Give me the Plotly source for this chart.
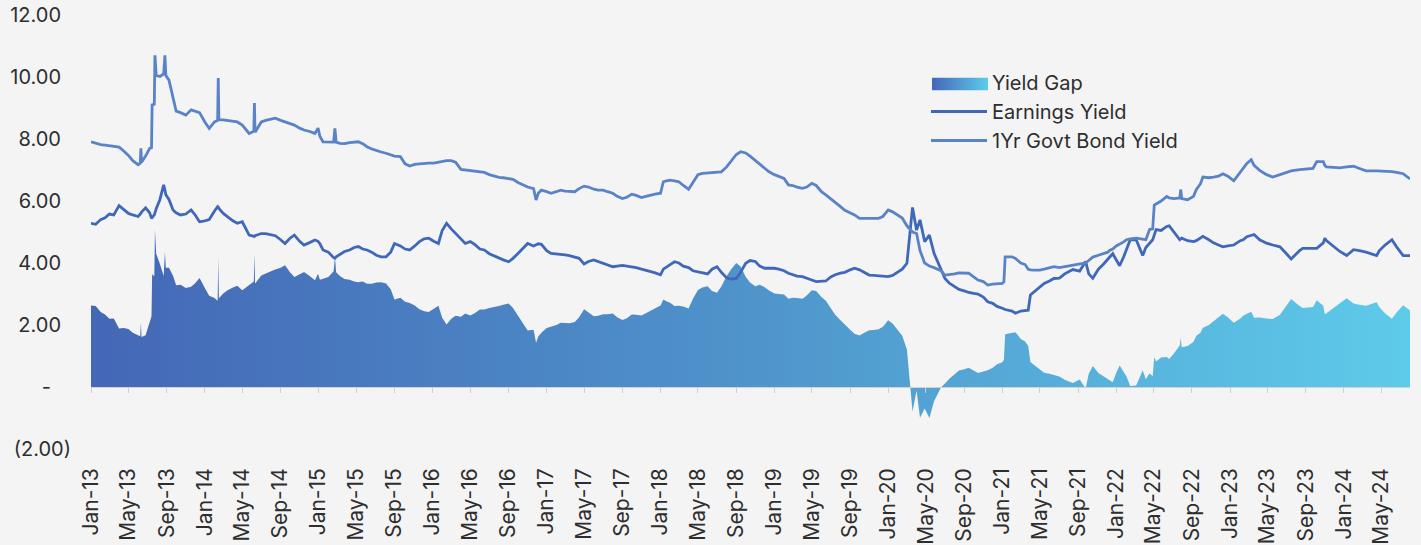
import base64
import plotly.graph_objects as go
import pandas as pd

# ---------------- data ----------------
dates = [
    "2013-01-01", "2013-01-16", "2013-02-01", "2013-02-15", "2013-03-01", "2013-03-15",
    "2013-04-01", "2013-04-15", "2013-05-01", "2013-05-15", "2013-06-01", "2013-06-08",
    "2013-06-10", "2013-06-12", "2013-06-25", "2013-07-08", "2013-07-14", "2013-07-16",
    "2013-07-23", "2013-07-25", "2013-07-29", "2013-08-10", "2013-08-22", "2013-08-26",
    "2013-08-29", "2013-09-08", "2013-09-21", "2013-10-01", "2013-10-15", "2013-11-01",
    "2013-11-18", "2013-12-01", "2013-12-15",
    "2014-01-01", "2014-01-15", "2014-02-01", "2014-02-11", "2014-02-13", "2014-02-15",
    "2014-03-01", "2014-03-15", "2014-04-01", "2014-04-15", "2014-05-01", "2014-05-23",
    "2014-06-07", "2014-06-09", "2014-06-11", "2014-07-01", "2014-07-15", "2014-08-01",
    "2014-08-15", "2014-09-01", "2014-09-15", "2014-10-01", "2014-10-15", "2014-11-01",
    "2014-11-15", "2014-12-01", "2014-12-20", "2014-12-30",
    "2015-01-05", "2015-01-15", "2015-02-01", "2015-02-18", "2015-02-22", "2015-02-26",
    "2015-03-10", "2015-03-25", "2015-04-10", "2015-04-25", "2015-05-08", "2015-05-22",
    "2015-06-05", "2015-06-20", "2015-07-05", "2015-07-20", "2015-08-05", "2015-08-20",
    "2015-09-01", "2015-09-20", "2015-10-05", "2015-10-20", "2015-11-05", "2015-11-20",
    "2015-12-05", "2015-12-20",
    "2016-01-05", "2016-01-20", "2016-02-01", "2016-02-15", "2016-03-01", "2016-03-15",
    "2016-04-01", "2016-04-15", "2016-05-01", "2016-05-15", "2016-06-01", "2016-06-15",
    "2016-07-01", "2016-07-15", "2016-08-01", "2016-08-15", "2016-09-01", "2016-09-15",
    "2016-10-01", "2016-10-15", "2016-11-01", "2016-11-20", "2016-11-28", "2016-12-05",
    "2016-12-15",
    "2017-01-01", "2017-01-15", "2017-02-01", "2017-02-15", "2017-03-01", "2017-03-15",
    "2017-04-01", "2017-04-15", "2017-05-01", "2017-05-15", "2017-06-01", "2017-06-15",
    "2017-07-01", "2017-07-15", "2017-08-01", "2017-08-15", "2017-09-01", "2017-09-15",
    "2017-10-01", "2017-10-15", "2017-11-01", "2017-11-15", "2017-12-01", "2017-12-15",
    "2018-01-01", "2018-01-10", "2018-01-20", "2018-02-01", "2018-02-15", "2018-03-01",
    "2018-03-15", "2018-04-01", "2018-04-15", "2018-05-01", "2018-05-15", "2018-06-01",
    "2018-06-15", "2018-07-01", "2018-07-15", "2018-08-01", "2018-08-15", "2018-09-01",
    "2018-09-15", "2018-10-01", "2018-10-15", "2018-11-01", "2018-11-15", "2018-12-01",
    "2018-12-15",
    "2019-01-01", "2019-01-15", "2019-02-01", "2019-02-15", "2019-03-01", "2019-03-15",
    "2019-04-01", "2019-04-15", "2019-05-01", "2019-05-15", "2019-06-01", "2019-06-15",
    "2019-07-01", "2019-07-15", "2019-08-01", "2019-08-15", "2019-09-01", "2019-09-15",
    "2019-10-01", "2019-10-15", "2019-11-01", "2019-11-15", "2019-12-01", "2019-12-15",
    "2020-01-01", "2020-01-15", "2020-02-01", "2020-02-15", "2020-03-01", "2020-03-10",
    "2020-03-19", "2020-04-01", "2020-04-12", "2020-04-27", "2020-05-12", "2020-05-27",
    "2020-06-18", "2020-07-01", "2020-07-15", "2020-08-01", "2020-08-15", "2020-09-01",
    "2020-09-15", "2020-10-01", "2020-10-15", "2020-11-01", "2020-11-15", "2020-12-01",
    "2020-12-15",
    "2021-01-01", "2021-01-06", "2021-01-10", "2021-02-01", "2021-02-12", "2021-03-01",
    "2021-03-15", "2021-03-25", "2021-04-01", "2021-04-15", "2021-05-01", "2021-05-15",
    "2021-06-01", "2021-06-15", "2021-07-03", "2021-07-20", "2021-08-15", "2021-09-06",
    "2021-09-25", "2021-10-05", "2021-10-18", "2021-11-05", "2021-11-21", "2021-12-05",
    "2021-12-12", "2021-12-21",
    "2022-01-01", "2022-01-12", "2022-01-25", "2022-02-03", "2022-02-15", "2022-03-06",
    "2022-03-27", "2022-04-06", "2022-04-18", "2022-04-28", "2022-05-03", "2022-05-09",
    "2022-05-25", "2022-06-12", "2022-06-20", "2022-07-05", "2022-07-24", "2022-07-27",
    "2022-07-30", "2022-08-18", "2022-09-06", "2022-09-15", "2022-09-28", "2022-10-06",
    "2022-10-25", "2022-11-09", "2022-11-25", "2022-12-09", "2022-12-25",
    "2023-01-13", "2023-02-03", "2023-02-12", "2023-02-24", "2023-03-10", "2023-03-19",
    "2023-04-06", "2023-04-28", "2023-05-18", "2023-06-10", "2023-07-01", "2023-07-16",
    "2023-08-12", "2023-08-22", "2023-09-24", "2023-10-06", "2023-10-27", "2023-11-01",
    "2023-11-06", "2023-12-10", "2023-12-18",
    "2024-01-10", "2024-02-01", "2024-02-20", "2024-03-12", "2024-04-15", "2024-04-24",
    "2024-05-12", "2024-06-03", "2024-06-18", "2024-07-09", "2024-07-31",
]

bond_yield = [
    7.91, 7.86, 7.82, 7.80, 7.78, 7.76,
    7.74, 7.62, 7.47, 7.30, 7.17, 7.22,
    7.70, 7.25, 7.45, 7.70, 7.72, 9.10,
    9.12, 10.70, 10.05, 10.02, 10.10, 10.70,
    10.05, 9.90, 9.30, 8.90, 8.85, 8.77,
    8.94, 8.90, 8.85,
    8.55, 8.34, 8.55, 8.60, 9.97, 8.62,
    8.62, 8.60, 8.57, 8.55, 8.45, 8.18,
    8.25, 9.16, 8.22, 8.55, 8.60, 8.65,
    8.67, 8.60, 8.56, 8.50, 8.45, 8.35,
    8.29, 8.25, 8.18, 8.35,
    8.08, 7.91, 7.90, 7.90, 8.34, 7.90,
    7.86, 7.85, 7.88, 7.90, 7.91, 7.85,
    7.75, 7.68, 7.62, 7.58, 7.54, 7.50,
    7.45, 7.43, 7.20, 7.13, 7.18, 7.20,
    7.22, 7.22,
    7.22, 7.25, 7.28, 7.30, 7.30, 7.25,
    7.02, 7.00, 7.00, 6.98, 6.95, 6.92,
    6.85, 6.80, 6.76, 6.75, 6.73, 6.70,
    6.60, 6.52, 6.45, 6.40, 6.03, 6.25,
    6.35,
    6.30, 6.25, 6.30, 6.35, 6.32, 6.30,
    6.30, 6.40, 6.48, 6.45, 6.38, 6.35,
    6.35, 6.30, 6.25, 6.15, 6.08, 6.12,
    6.22, 6.18, 6.11, 6.15, 6.20, 6.22,
    6.25, 6.62, 6.65, 6.67, 6.65, 6.62,
    6.50, 6.38, 6.60, 6.85, 6.89, 6.90,
    6.90, 6.92, 6.94, 7.10, 7.27, 7.50,
    7.59, 7.55, 7.45, 7.30, 7.20, 7.05,
    6.94,
    6.85, 6.80, 6.73, 6.52, 6.50, 6.45,
    6.41, 6.45, 6.57, 6.50, 6.30, 6.20,
    6.08, 5.95, 5.82, 5.70, 5.63, 5.55,
    5.44, 5.44, 5.44, 5.44, 5.44, 5.50,
    5.71, 5.65, 5.55, 5.45, 5.20, 5.10,
    5.00, 4.95, 4.40, 4.00, 3.90, 3.85,
    3.75, 3.61, 3.62, 3.65, 3.68, 3.67,
    3.67, 3.55, 3.45, 3.40, 3.29, 3.32,
    3.33,
    3.34, 3.40, 4.20, 4.20, 4.15, 4.00,
    3.95, 3.80, 3.78, 3.77, 3.77, 3.80,
    3.85, 3.88, 3.85, 3.88, 3.92, 3.98,
    4.00, 4.08, 4.19, 4.25, 4.30, 4.35,
    4.41, 4.45,
    4.55, 4.60, 4.68, 4.75, 4.78, 4.80,
    4.78, 4.75, 5.08, 5.10, 5.87, 5.90,
    6.00, 6.15, 6.10, 6.08, 6.10, 6.37,
    6.08, 6.04, 6.15, 6.37, 6.55, 6.77,
    6.75, 6.77, 6.80, 6.88, 6.80,
    6.65, 6.93, 7.05, 7.21, 7.33, 7.15,
    6.99, 6.85, 6.77, 6.85, 6.93, 6.97,
    7.01, 7.02, 7.05, 7.27, 7.27, 7.15,
    7.10, 7.08, 7.07,
    7.10, 7.12, 7.05, 6.97, 6.97, 6.97,
    6.96, 6.95, 6.92, 6.88, 6.71,
]

earnings_yield = [
    5.28, 5.25, 5.40, 5.46, 5.58, 5.55,
    5.85, 5.72, 5.60, 5.55, 5.50, 5.58,
    5.62, 5.64, 5.78, 5.62, 5.44, 5.46,
    5.55, 5.62, 5.75, 6.05, 6.52, 6.35,
    6.20, 6.05, 5.71, 5.62, 5.55, 5.58,
    5.71, 5.55, 5.33,
    5.36, 5.40, 5.68, 5.82, 5.80, 5.76,
    5.60, 5.48, 5.36, 5.28, 5.33, 4.90,
    4.85, 4.86, 4.88, 4.95, 4.95, 4.92,
    4.88, 4.75, 4.63, 4.80, 4.90, 4.70,
    4.58, 4.65, 4.74, 4.70,
    4.62, 4.42, 4.35, 4.17, 4.15, 4.20,
    4.28, 4.37, 4.42, 4.50, 4.53, 4.45,
    4.42, 4.35, 4.25, 4.20, 4.20, 4.35,
    4.63, 4.55, 4.45, 4.42, 4.55, 4.69,
    4.78, 4.80,
    4.70, 4.63, 5.05, 5.28, 5.10, 4.95,
    4.75, 4.63, 4.69, 4.60, 4.45, 4.42,
    4.30, 4.23, 4.15, 4.10, 4.04, 4.15,
    4.31, 4.45, 4.63, 4.55, 4.60, 4.62,
    4.60,
    4.40, 4.31, 4.30, 4.28, 4.26, 4.24,
    4.20, 4.15, 3.97, 4.05, 4.10, 4.05,
    4.00, 3.95, 3.88, 3.90, 3.92, 3.90,
    3.88, 3.85, 3.80, 3.77, 3.72, 3.68,
    3.62, 3.80, 3.88, 3.95, 4.04, 4.00,
    3.90, 3.85, 3.75, 3.72, 3.68, 3.65,
    3.80, 3.88, 3.70, 3.52, 3.48, 3.50,
    3.70, 3.99, 4.08, 4.05, 3.90, 3.83,
    3.83,
    3.83, 3.80, 3.75, 3.67, 3.62, 3.58,
    3.56, 3.50, 3.45, 3.40, 3.40, 3.42,
    3.55, 3.62, 3.67, 3.70, 3.78, 3.83,
    3.78, 3.70, 3.61, 3.60, 3.58, 3.56,
    3.56, 3.60, 3.72, 3.80, 3.99, 4.85,
    5.79, 5.06, 5.39, 4.69, 4.90, 4.31,
    3.77, 3.50, 3.35, 3.24, 3.15, 3.10,
    3.05, 3.02, 3.00, 2.90, 2.75, 2.70,
    2.60,
    2.54, 2.52, 2.50, 2.45, 2.38, 2.45,
    2.48, 2.48, 2.97, 3.08, 3.20, 3.34,
    3.42, 3.50, 3.51, 3.65, 3.79, 3.74,
    4.05, 3.65, 3.51, 3.80, 3.96, 4.10,
    4.20, 4.30,
    4.10, 3.91, 4.20, 4.41, 4.75, 4.75,
    4.24, 4.50, 4.64, 4.75, 4.90, 5.08,
    5.05, 5.18, 5.20, 5.00, 4.75, 4.78,
    4.80, 4.72, 4.69, 4.72, 4.80, 4.86,
    4.75, 4.65, 4.58, 4.52, 4.55,
    4.58, 4.72, 4.75, 4.85, 4.90, 4.92,
    4.75, 4.64, 4.58, 4.52, 4.30, 4.13,
    4.40, 4.47, 4.47, 4.47, 4.65, 4.80,
    4.72, 4.43, 4.38,
    4.24, 4.43, 4.40, 4.35, 4.24, 4.40,
    4.58, 4.75, 4.52, 4.24, 4.24,
]

# Yield gap = 1Yr govt bond yield - earnings yield
yield_gap = [round(b - e, 2) for b, e in zip(bond_yield, earnings_yield)]

tick_labels = [
    "Jan-13", "May-13", "Sep-13", "Jan-14", "May-14", "Sep-14", "Jan-15", "May-15",
    "Sep-15", "Jan-16", "May-16", "Sep-16", "Jan-17", "May-17", "Sep-17", "Jan-18",
    "May-18", "Sep-18", "Jan-19", "May-19", "Sep-19", "Jan-20", "May-20", "Sep-20",
    "Jan-21", "May-21", "Sep-21", "Jan-22", "May-22", "Sep-22", "Jan-23", "May-23",
    "Sep-23", "Jan-24", "May-24",
]
y_tick_values = [-2, 0, 2, 4, 6, 8, 10, 12]
y_tick_labels = ["(2.00)", "-\u2002\u2002", "2.00\u2002", "4.00\u2002", "6.00\u2002",
                 "8.00\u2002", "10.00\u2002", "12.00\u2002"]

# ---------------- figure ----------------
tick_dates = pd.date_range("2013-01-01", periods=len(tick_labels), freq="4MS")
x = pd.to_datetime(dates)

FONT = "Inter, Roboto, sans-serif"
TEXT = "#2e2e2e"
BG = "#f4f4f4"
EY_COLOR = "#4168b8"
BOND_COLOR = "#5a83c7"
GRAD_LEFT = "#4467b6"
GRAD_RIGHT = "#5ecbea"

fig = go.Figure()

# legend entry for the area (its gradient swatch is supplied by a layout image)
fig.add_trace(go.Scatter(
    x=[None], y=[None], name="Yield Gap", mode="lines",
    line=dict(width=0, color="rgba(0,0,0,0)"), hoverinfo="skip",
))
fig.add_trace(go.Scatter(
    x=x, y=yield_gap, name="Yield Gap", mode="lines", showlegend=False,
    line=dict(width=0, color="#4d86c8"),
    fill="tozeroy",
    fillgradient=dict(type="horizontal",
                      colorscale=[[0, GRAD_LEFT], [0.5, "#4f94cb"], [1, GRAD_RIGHT]]),
))
fig.add_trace(go.Scatter(
    x=x, y=earnings_yield, name="Earnings Yield", mode="lines",
    line=dict(width=2.8, color=EY_COLOR),
))
fig.add_trace(go.Scatter(
    x=x, y=bond_yield, name="1Yr Govt Bond Yield", mode="lines",
    line=dict(width=2.8, color=BOND_COLOR),
))
# helper (invisible) trace so the zero-line axis with its tick marks is drawn
fig.add_trace(go.Scatter(
    x=[x[0], x[-1]], y=[0, 0], xaxis="x2", mode="lines",
    line=dict(width=0), showlegend=False, hoverinfo="skip",
))

x_range = [dates[0], dates[-1]]

# gradient swatch for the "Yield Gap" legend entry
svg = ('<svg xmlns="http://www.w3.org/2000/svg" width="56" height="13">'
       '<defs><linearGradient id="g" x1="0" x2="1" y1="0" y2="0">'
       f'<stop offset="0" stop-color="{GRAD_LEFT}"/>'
       f'<stop offset="1" stop-color="{GRAD_RIGHT}"/>'
       '</linearGradient></defs>'
       '<rect width="56" height="13" fill="url(#g)"/></svg>')
swatch_src = "data:image/svg+xml;base64," + base64.b64encode(svg.encode()).decode()

PL, PR, PT, PB = 91, 11, 15, 96
W, H = 1421, 545
pw, ph = W - PL - PR, H - PT - PB

fig.update_layout(
    width=W, height=H,
    margin=dict(l=PL, r=PR, t=PT, b=PB, autoexpand=False),
    paper_bgcolor=BG, plot_bgcolor=BG,
    font=dict(family=FONT, size=21, color=TEXT),
    showlegend=True,
    legend=dict(
        x=(926 - PL) / pw, y=(PT + ph - 63) / ph, xanchor="left", yanchor="top",
        bgcolor="rgba(0,0,0,0)", borderwidth=0,
        font=dict(family=FONT, size=20, color=TEXT),
        itemwidth=56, tracegroupgap=0,
    ),
    images=[dict(
        source=swatch_src, xref="paper", yref="paper",
        x=(932 - PL) / pw, y=(PT + ph - 77.5) / ph,
        sizex=56 / pw, sizey=13 / ph, sizing="stretch",
        xanchor="left", yanchor="top", layer="above",
    )],
    xaxis=dict(
        type="date", range=x_range, automargin=False,
        tickmode="array", tickvals=tick_dates, ticktext=tick_labels,
        tickangle=-90, showgrid=False, zeroline=False, showline=False,
        ticks="", ticklabelstandoff=14,
        tickfont=dict(family=FONT, size=21, color=TEXT),
    ),
    xaxis2=dict(
        type="date", overlaying="x", matches="x", anchor="free",
        position=1 / 7, range=x_range, automargin=False,
        tickmode="array", tickvals=tick_dates, showticklabels=False,
        ticks="outside", ticklen=5, tickwidth=1, tickcolor="#cfcfcf",
        showline=True, linecolor="#d2d2d2", linewidth=1,
        showgrid=False, zeroline=False,
    ),
    yaxis=dict(
        range=[-2, 12], tickmode="array", tickvals=y_tick_values, automargin=False,
        ticktext=y_tick_labels, showgrid=False, zeroline=False, showline=False,
        ticks="", ticklabelstandoff=19,
        tickfont=dict(family=FONT, size=20, color=TEXT),
    ),
)

fig.write_html(
    "out.html",
    config={"displayModeBar": False},
    post_script="document.body.style.margin='0';"
                "document.body.style.background='" + BG + "';",
)
